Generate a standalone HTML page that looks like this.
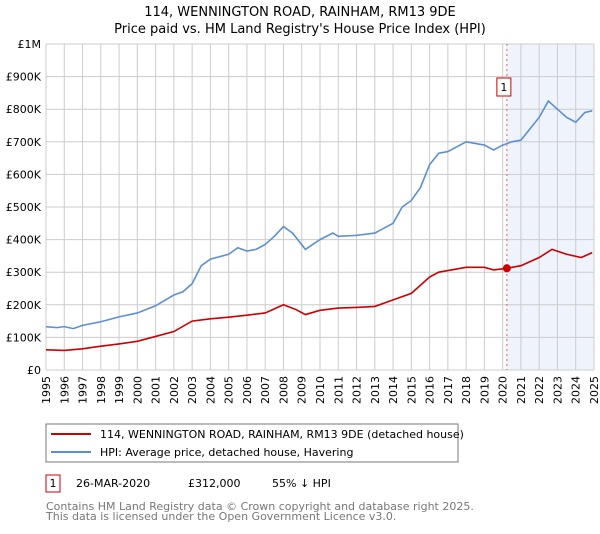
<!DOCTYPE html>
<html><head><meta charset="utf-8"><style>
body{margin:0;background:#fff;font-family:"DejaVu Sans","Liberation Sans",sans-serif;}
svg text{font-family:"DejaVu Sans","Liberation Sans",sans-serif;}
</style></head><body>
<svg id="c" width="600" height="530" xmlns="http://www.w3.org/2000/svg">
<text x="300" y="16" text-anchor="middle" font-size="13">114, WENNINGTON ROAD, RAINHAM, RM13 9DE</text>
<text x="300" y="33" text-anchor="middle" font-size="13">Price paid vs. HM Land Registry's House Price Index (HPI)</text>
<g id="plot"></g>
<rect x="46" y="424" width="412" height="38" fill="#fff" stroke="#777"/>
<line x1="51" y1="434" x2="91" y2="434" stroke="#cc0000" stroke-width="2"/>
<text x="100" y="438" font-size="11">114, WENNINGTON ROAD, RAINHAM, RM13 9DE (detached house)</text>
<line x1="51" y1="452" x2="91" y2="452" stroke="#5b8fd4" stroke-width="2"/>
<text x="100" y="456" font-size="11">HPI: Average price, detached house, Havering</text>
<rect x="46" y="475" width="14" height="17" fill="#fff" stroke="#cc0000"/>
<text x="53" y="487" text-anchor="middle" font-size="11">1</text>
<text x="76" y="487" font-size="11">26-MAR-2020</text>
<text x="188" y="487" font-size="11">£312,000</text>
<text x="272" y="487" font-size="11">55% ↓ HPI</text>
<text x="46" y="510" font-size="11" fill="#777">Contains HM Land Registry data © Crown copyright and database right 2025.</text>
<text x="46" y="520" font-size="11" fill="#777">This data is licensed under the Open Government Licence v3.0.</text>
</svg>
<script>
const yTicks=[0,100,200,300,400,500,600,700,800,900,1000];
const yLabels=["£0","£100K","£200K","£300K","£400K","£500K","£600K","£700K","£800K","£900K","£1M"];
const years=[1995,1996,1997,1998,1999,2000,2001,2002,2003,2004,2005,2006,2007,2008,2009,2010,2011,2012,2013,2014,2015,2016,2017,2018,2019,2020,2021,2022,2023,2024,2025];
const hpiX=[1995,1995.6,1996,1996.5,1997,1998,1999,2000,2001,2002,2002.5,2003,2003.5,2004,2005,2005.5,2006,2006.5,2007,2007.5,2008,2008.5,2009.2,2010,2010.7,2011,2012,2013,2014,2014.5,2015,2015.5,2016,2016.5,2017,2017.5,2018,2019,2019.5,2020,2020.5,2021,2021.5,2022,2022.5,2023,2023.5,2024,2024.5,2024.9];
const hpiY=[133,130,133,127,137,148,163,175,197,230,240,265,320,340,355,375,365,370,385,410,440,420,370,400,420,410,413,420,450,500,520,560,630,665,670,685,700,690,675,690,700,705,740,775,825,800,775,760,790,795];
const priceX=[1995,1996,1997,1998,1999,2000,2001,2002,2003,2004,2005,2006,2007,2008,2008.7,2009.2,2010,2011,2012,2013,2014,2015,2016,2016.5,2017,2018,2019,2019.5,2020.23,2021,2022,2022.7,2023.5,2024.3,2024.9];
const priceY=[62,60,65,73,80,88,103,118,150,157,162,168,175,200,185,170,183,190,192,195,215,235,285,300,305,315,315,307,312,320,345,370,355,345,360];
const saleX=2020.23, saleY=312;
const X0=46,X1=594,Y0=370,Y1=44;
const sx=y=>X0+(y-1995)/(2025-1995)*(X1-X0);
const sy=v=>Y0-v/1000*(Y0-Y1);
const NS="http://www.w3.org/2000/svg";
const g=document.getElementById('plot');
function mk(t,a){const e=document.createElementNS(NS,t);for(const k in a)e.setAttribute(k,a[k]);g.appendChild(e);return e;}
let e=mk('rect',{x:sx(saleX),y:Y1,width:X1-sx(saleX),height:Y0-Y1,fill:'#eef3fc'});


years.forEach(y=>{const l=mk('line',{x1:sx(y),x2:sx(y),y1:Y1,y2:Y0,stroke:'#ccc'});


const t=mk('text',{transform:`translate(${sx(y)+4},404) rotate(-90)`,'font-size':'11'});t.textContent=y;

});
yTicks.forEach((v,i)=>{const l=mk('line',{x1:X0,x2:X1,y1:sy(v),y2:sy(v),stroke:'#ccc'});


const t=mk('text',{x:41,y:sy(v)+4,'text-anchor':'end','font-size':'11'});t.textContent=yLabels[i];

});
e=mk('line',{x1:sx(saleX),x2:sx(saleX),y1:Y1,y2:Y0,stroke:'#e06060','stroke-dasharray':'2,3'});


e=mk('polyline',{points:hpiX.map((x,i)=>sx(x)+','+sy(hpiY[i])).join(' '),fill:'none',stroke:'#5b8fd4','stroke-width':1.6});


e=mk('polyline',{points:priceX.map((x,i)=>sx(x)+','+sy(priceY[i])).join(' '),fill:'none',stroke:'#cc0000','stroke-width':1.6});


e=mk('circle',{cx:sx(saleX),cy:sy(saleY),r:4,fill:'#cc0000'});


e=mk('rect',{x:sx(saleX)-10,y:78,width:14,height:18,fill:'#fff',stroke:'#cc0000'});


e=mk('text',{x:sx(saleX)-3,y:91,'text-anchor':'middle','font-size':'11'});e.textContent='1';


</script>
</body></html>
